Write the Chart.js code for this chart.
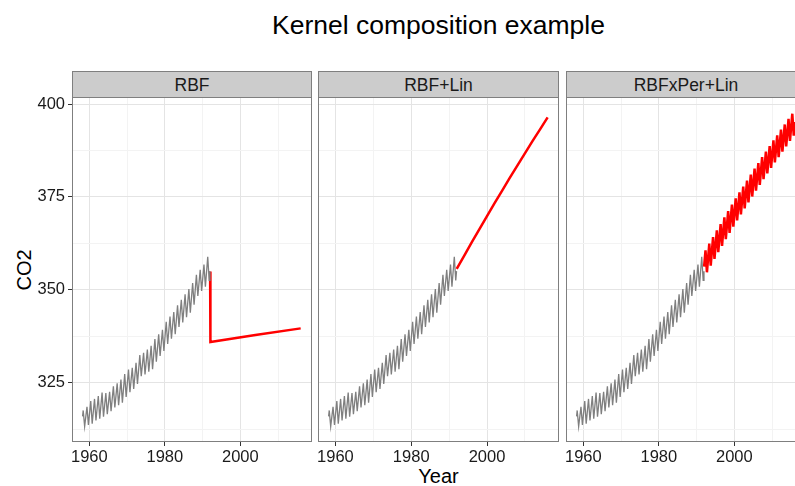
<!DOCTYPE html>
<html>
<head>
<meta charset="utf-8">
<script src="https://cdn.jsdelivr.net/npm/chart.js@4"></script>
<style>
  body { margin:0; width:795px; height:486px; overflow:hidden; position:relative; background:#fff;
         font-family:"Liberation Sans", Arial, sans-serif; color:#000; }
  .abs { position:absolute; }
  .strip { position:absolute; top:71px; height:26px; box-sizing:border-box; background:#cccccc;
           border:1px solid #7f7f7f; border-bottom:none; font-size:17.5px; color:#1a1a1a;
           text-align:center; line-height:26px; }
  canvas { position:absolute; top:97px; }
</style>
</head>
<body>
<div class="abs" style="left:72px;width:733px;top:8px;font-size:26.5px;text-align:center;line-height:34px;">Kernel composition example</div>
<div class="abs" style="left:-26px;top:258px;width:100px;font-size:20px;text-align:center;line-height:24px;transform:rotate(-90deg);">CO2</div>
<div class="abs" style="left:72px;width:733px;top:464px;font-size:20px;text-align:center;line-height:24px;">Year</div>

<div class="strip" style="left:72px;width:240px;">RBF</div>
<div class="strip" style="left:318px;width:241px;">RBF+Lin</div>
<div class="strip" style="left:566px;width:240px;">RBFxPer+Lin</div>

<canvas id="c1" width="312" height="375" style="left:0px"></canvas>
<canvas id="c2" width="241" height="375" style="left:318px"></canvas>
<canvas id="c3" width="240" height="375" style="left:566px"></canvas>

<script>
// observed Mauna Loa CO2, seasonal highs (May) and lows (Oct) per year
const obsYears = [1958,1959,1960,1961,1962,1963,1964,1965,1966,1967,1968,1969,1970,1971,1972,1973,1974,
  1975,1976,1977,1978,1979,1980,1981,1982,1983,1984,1985,1986,1987,1988,1989,1990,1991];
const obsPeak = [317.5,318.5,320.0,320.6,321.4,322.3,322.2,322.5,324.0,324.8,325.8,327.3,328.5,329.0,330.3,
  332.4,333.0,333.9,334.9,336.7,338.0,339.2,341.4,342.8,344.0,345.8,347.3,348.8,350.2,351.8,354.0,355.4,356.8,358.9];
const obsTrough = [313.2,313.6,313.9,314.8,315.3,315.8,316.5,317.3,318.3,318.9,319.6,321.1,322.4,323.3,324.6,
  326.7,327.2,327.9,328.6,330.6,332.2,333.5,335.4,336.8,338.0,340.0,341.2,342.6,343.8,346.0,348.3,349.7,350.8,352.5];
const obsStart = [1958.2, 315.9];
const obsEnd = [1991.96, 355.0];
const peakMonth = 0.37;   // May
const troughMonth = 0.75; // October

// RBF prediction
const rbfYears = [1992.0, 1992.08, 2004.0, 2016.0];
const rbfCO2 = [354.9, 335.9, 337.8, 339.6];

// RBF+Lin prediction
const linYears = [1992,1994,1996,1998,2000,2002,2004,2006,2008,2010,2012,2014,2016];
const linCO2 = [355.6,359.2,362.8,366.3,369.8,373.3,376.7,380.1,383.4,386.7,390.0,393.2,396.4];

// RBFxPer+Lin prediction, seasonal highs and lows
const perYears = [1992,1993,1994,1995,1996,1997,1998,1999,2000,2001,2002,2003,2004,2005,2006,2007,
  2008,2009,2010,2011,2012,2013,2014,2015];
const perPeak = [360.6,362.4,364.2,366.0,367.7,369.5,371.2,372.9,374.6,376.2,377.8,379.4,381.0,382.6,384.1,
  385.7,387.2,388.7,390.2,391.6,393.1,394.5,396.0,397.4];
const perTrough = [354.7,356.5,358.3,360.1,361.8,363.6,365.3,367.0,368.7,370.3,371.9,373.5,375.1,376.7,378.2,
  379.8,381.3,382.8,384.3,385.7,387.2,388.6,390.1,391.5];
const perStart = [1992.0, 356.2];
const perEnd = [2016.0, 395.2];

const xTicks = [1960, 1970, 1980, 1990, 2000, 2010];
const yTicks = [312.5, 325, 337.5, 350, 362.5, 375, 387.5, 400];

function seasonal(start, years, highs, lows, end) {
  const pts = [{x: start[0], y: start[1]}];
  years.forEach((yr, i) => {
    pts.push({x: yr + peakMonth, y: highs[i]});
    pts.push({x: yr + troughMonth, y: lows[i]});
  });
  pts.push({x: end[0], y: end[1]});
  return pts;
}
const pair = (xs, ys) => xs.map((x, i) => ({x: x, y: ys[i]}));

const observed = seasonal(obsStart, obsYears, obsPeak, obsTrough, obsEnd);

const panelBorder = {
  id: 'panelBorder',
  afterDraw(chart) {
    const {ctx, chartArea: a} = chart;
    ctx.save();
    ctx.strokeStyle = '#7f7f7f';
    ctx.lineWidth = 1;
    ctx.strokeRect(Math.round(a.left) + 0.5, Math.round(a.top) + 0.5,
      Math.round(a.right - a.left) - 1, Math.round(a.bottom - a.top) - 1);
    ctx.restore();
  }
};

const isMajorX = v => v % 20 === 0;
const isMajorY = v => v % 25 === 0;

function makeChart(id, pred, predWidth, showY) {
  return new Chart(document.getElementById(id), {
    type: 'line',
    data: {
      datasets: [
        { data: observed, borderColor: '#7f7f7f', borderWidth: 1.3, pointRadius: 0, tension: 0 },
        { data: pred, borderColor: '#ff0000', borderWidth: predWidth, pointRadius: 0, tension: 0 }
      ]
    },
    options: {
      responsive: false,
      animation: false,
      devicePixelRatio: 1,
      layout: { padding: 0 },
      plugins: { legend: { display: false }, tooltip: { enabled: false } },
      scales: {
        x: {
          type: 'linear', min: 1955.4, max: 2019.0,
          afterBuildTicks: s => { s.ticks = xTicks.map(v => ({value: v})); },
          afterFit: s => { s.height = 30; s.paddingLeft = 0; s.paddingRight = 0; },
          border: { display: false },
          grid: {
            color: c => isMajorX(c.tick.value) ? '#e4e4e4' : '#f3f3f3',
            tickColor: c => isMajorX(c.tick.value) ? '#333333' : 'rgba(0,0,0,0)',
            tickLength: 4, lineWidth: 1
          },
          ticks: {
            padding: 2, maxRotation: 0, autoSkip: false, color: '#1a1a1a',
            font: { family: '"Liberation Sans", Arial, sans-serif', size: 16.5 },
            callback: v => isMajorX(v) ? String(v) : ''
          }
        },
        y: {
          type: 'linear', min: 309.0, max: 401.9,
          afterBuildTicks: s => { s.ticks = yTicks.map(v => ({value: v})); },
          afterFit: s => { s.width = showY ? 72 : 0; s.paddingTop = 0; s.paddingBottom = 0; },
          border: { display: false },
          grid: {
            color: c => isMajorY(c.tick.value) ? '#e4e4e4' : '#f3f3f3',
            tickColor: c => (showY && isMajorY(c.tick.value)) ? '#333333' : 'rgba(0,0,0,0)',
            drawTicks: showY, tickLength: 4, lineWidth: 1
          },
          ticks: {
            display: showY, padding: 3, color: '#1a1a1a',
            font: { family: '"Liberation Sans", Arial, sans-serif', size: 16.5 },
            callback: v => isMajorY(v) ? String(v) : ''
          }
        }
      }
    },
    plugins: [panelBorder]
  });
}

makeChart('c1', pair(rbfYears, rbfCO2), 2.5, true);
makeChart('c2', pair(linYears, linCO2), 2.5, false);
makeChart('c3', seasonal(perStart, perYears, perPeak, perTrough, perEnd), 2.5, false);
</script>
</body>
</html>
